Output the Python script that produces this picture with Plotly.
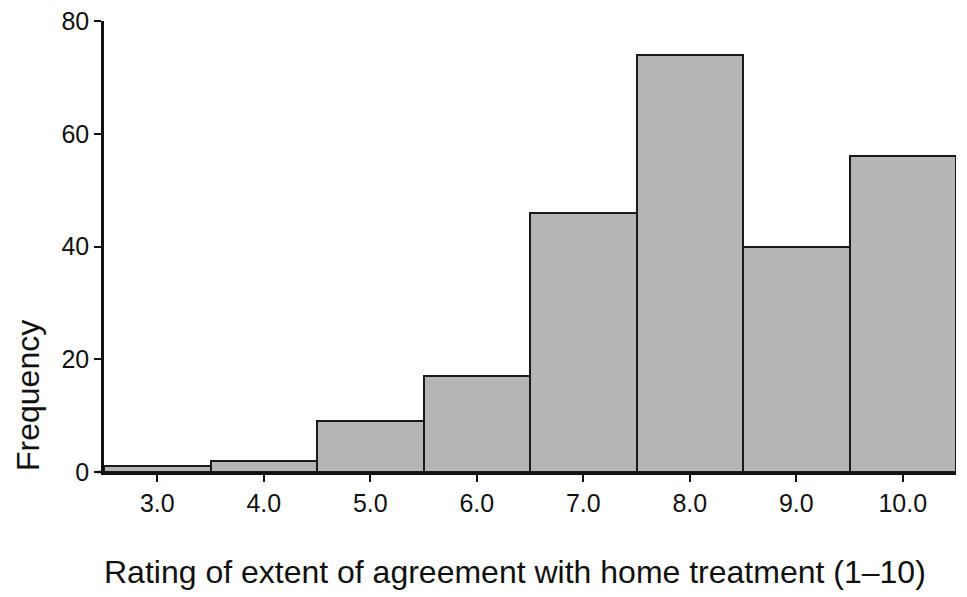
import plotly.graph_objects as go

ratings = [3, 4, 5, 6, 7, 8, 9, 10]
frequency = [1, 2, 9, 17, 46, 74, 40, 56]
x_tick_labels = ["3.0", "4.0", "5.0", "6.0", "7.0", "8.0", "9.0", "10.0"]
y_ticks = [0, 20, 40, 60, 80]
x_title = "Rating of extent of agreement with home treatment (1\u201310)"
y_title = "Frequency"

FONT = "Liberation Sans, Arial, sans-serif"

# page body has an 8px margin; compensate so the plot area lands at x 104-956, y 21-472
W, H = 959, 589
L, R, T, B = 96, 11, 13, 125
PW = W - L - R
PH = H - T - B

fig = go.Figure()
fig.add_trace(go.Bar(
    x=ratings, y=frequency, width=1.0,
    marker=dict(color="#b5b5b5", line=dict(color="#1a1a1a", width=2)),
    showlegend=False, hoverinfo="skip",
))

fig.update_layout(
    width=W, height=H,
    margin=dict(l=L, r=R, t=T, b=B, autoexpand=False),
    paper_bgcolor="white", plot_bgcolor="white",
    font=dict(family=FONT, size=25, color="#111111"),
    bargap=0,
    xaxis=dict(
        range=[2.5, 10.5], tickmode="array", tickvals=ratings, ticktext=x_tick_labels,
        showline=True, linecolor="#111111", linewidth=2.5,
        ticks="outside", ticklen=7, tickwidth=1.5, tickcolor="#111111",
        showgrid=False, zeroline=False, tickfont=dict(size=25),
        ticklabeloverflow="allow", automargin=False,
    ),
    yaxis=dict(
        range=[0, 80], tickmode="array", tickvals=y_ticks,
        showline=True, linecolor="#111111", linewidth=2.5,
        ticks="outside", ticklen=7, tickwidth=1.5, tickcolor="#111111",
        showgrid=False, zeroline=False, tickfont=dict(size=25),
        ticklabeloverflow="allow", automargin=False,
    ),
    annotations=[
        dict(text=x_title, xref="paper", yref="paper", x=(515 - 104) / PW, y=-(572 - 472) / PH,
             xanchor="center", yanchor="middle", showarrow=False, font=dict(size=32)),
        dict(text=y_title, xref="paper", yref="paper", x=-(104 - 8) / PW, y=(472 - 396) / PH,
             xanchor="left", yanchor="middle", showarrow=False, textangle=-90, font=dict(size=32)),
    ],
    shapes=[
        dict(type="line", xref="paper", yref="paper", x0=-7 / PW, x1=0, y0=0, y1=0,
             line=dict(color="#111111", width=2.5)),
    ],
)

fig.write_html("out.html")
